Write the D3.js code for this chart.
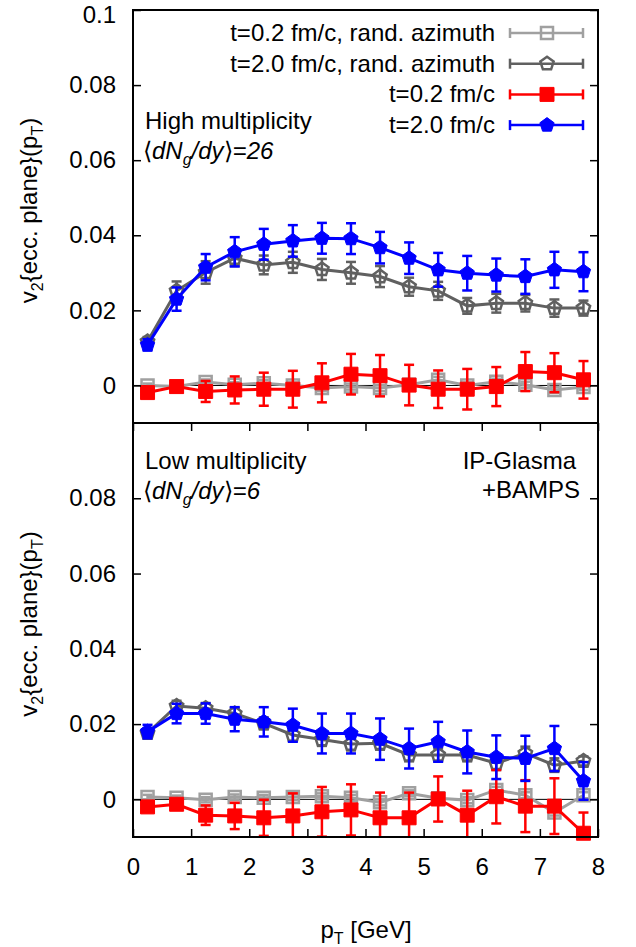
<!DOCTYPE html>
<html>
<head>
<meta charset="utf-8">
<script src="https://cdn.jsdelivr.net/npm/d3@7"></script>
<style>
  body { margin: 0; background: #fff; }
  svg text { font-family: "Liberation Sans", Arial, Helvetica, sans-serif; fill: #000; }
</style>
</head>
<body>
<svg id="chart" width="636" height="947"></svg>
<script>
// pT bin centres (GeV)
const pT = [0.25, 0.75, 1.25, 1.75, 2.25, 2.75, 3.25, 3.75, 4.25, 4.75, 5.25, 5.75, 6.25, 6.75, 7.25, 7.75];

// high multiplicity, <dNg/dy> = 26
const highRand02 = [0, -0.0003, 0.0009, 0.0002, 0.0006, 0, -0.0007, -0.0003, -0.0007, 0.0002, 0.0015, 0, 0.001, 0.0002, -0.0012, -0.0004];
const highRand02Err = [0.0005, 0.0006, 0.0007, 0.0007, 0.0008, 0.0008, 0.0008, 0.0008, 0.0008, 0.0008, 0.0008, 0.0008, 0.0008, 0.0008, 0.0008, 0.0008];
const highRand20 = [0.0117, 0.0252, 0.0301, 0.0339, 0.0321, 0.0328, 0.0309, 0.0300, 0.0290, 0.0263, 0.0252, 0.0212, 0.0219, 0.0219, 0.0206, 0.0206];
const highRand20Err = [0.0012, 0.0025, 0.003, 0.0021, 0.0025, 0.0028, 0.0028, 0.0029, 0.0028, 0.0024, 0.0024, 0.0021, 0.0025, 0.0022, 0.0023, 0.002];
const high02 = [-0.0019, -0.0003, -0.0016, -0.0012, -0.0010, -0.0010, 0.0007, 0.0030, 0.0026, 0.0001, -0.0010, -0.0010, -0.0003, 0.0037, 0.0034, 0.0015];
const high02Err = [0.0006, 0.0008, 0.0028, 0.0036, 0.0044, 0.0049, 0.0052, 0.0054, 0.0055, 0.0054, 0.0050, 0.0054, 0.0052, 0.0052, 0.0052, 0.0050];
const high20 = [0.0108, 0.0230, 0.0315, 0.0356, 0.0376, 0.0385, 0.0392, 0.0391, 0.0367, 0.0339, 0.0308, 0.0299, 0.0294, 0.0290, 0.0308, 0.0303];
const high20Err = [0.0015, 0.0031, 0.0035, 0.0039, 0.0041, 0.0042, 0.0041, 0.0041, 0.0042, 0.0042, 0.0045, 0.0046, 0.0044, 0.0046, 0.0048, 0.0052];

// low multiplicity, <dNg/dy> = 6
const lowRand02 = [0.0006, 0.0004, -0.0001, 0.0006, 0.0004, 0.0006, 0.0008, 0.0004, -0.0008, 0.0016, 0.0003, -0.0002, 0.0025, 0.0011, -0.0035, 0.0011];
const lowRand02Err = [0.0006, 0.0006, 0.0007, 0.0007, 0.0008, 0.0008, 0.0008, 0.0008, 0.0008, 0.0008, 0.0008, 0.0008, 0.0008, 0.0008, 0.0008, 0.0008];
const lowRand20 = [0.0176, 0.0248, 0.0242, 0.0228, 0.0202, 0.0171, 0.0159, 0.0147, 0.0149, 0.0118, 0.0118, 0.0118, 0.0096, 0.0122, 0.0091, 0.0102];
const lowRand20Err = [0.0012, 0.0014, 0.0014, 0.0015, 0.0016, 0.0016, 0.0017, 0.0017, 0.0017, 0.0017, 0.0017, 0.0017, 0.0018, 0.0018, 0.0018, 0.0012];
const low02 = [-0.0020, -0.0013, -0.0042, -0.0044, -0.0049, -0.0044, -0.0033, -0.0028, -0.0049, -0.0049, 0.0001, -0.0042, 0.0007, -0.0018, -0.0018, -0.0090];
const low02Err = [0.0006, 0.0006, 0.0026, 0.0035, 0.0048, 0.0060, 0.0066, 0.0068, 0.0067, 0.0067, 0.0060, 0.0065, 0.0071, 0.0069, 0.0074, 0.0055];
const low20 = [0.0180, 0.0228, 0.0228, 0.0213, 0.0206, 0.0197, 0.0175, 0.0175, 0.0160, 0.0135, 0.0153, 0.0126, 0.0112, 0.0109, 0.0135, 0.0049];
const low20Err = [0.0018, 0.0026, 0.0027, 0.0032, 0.0039, 0.0044, 0.0053, 0.0053, 0.0055, 0.0053, 0.0053, 0.0057, 0.0058, 0.0060, 0.0060, 0.0050];

const legendLabels = ['t=0.2 fm/c, rand. azimuth', 't=2.0 fm/c, rand. azimuth', 't=0.2 fm/c', 't=2.0 fm/c'];
const xTicks = [0, 1, 2, 3, 4, 5, 6, 7, 8];
const yTicksTop = [0, 0.02, 0.04, 0.06, 0.08, 0.1];
const yTicksBottom = [0, 0.02, 0.04, 0.06, 0.08];

// one style per series, in legend order
const styles = [
  {color: '#a0a0a0', marker: 'square', filled: false},
  {color: '#606060', marker: 'pentagon', filled: false},
  {color: '#ff0000', marker: 'square', filled: true},
  {color: '#0000ff', marker: 'pentagon', filled: true}
];

const svg = d3.select('#chart');
const left = 133, right = 598;
const fontSize = 24;

const x = d3.scaleLinear().domain([0, 8]).range([left, right]);
const yTop = d3.scaleLinear().domain([-0.01, 0.1]).range([423, 10]);
const yBottom = d3.scaleLinear().domain([-0.01, 0.1]).range([837, 423]);

function pentagonPath (r) {
  const pts = d3.range(5).map(i => {
    const a = -Math.PI / 2 + i * 2 * Math.PI / 5;
    return [r * Math.cos(a), r * Math.sin(a)];
  });
  return 'M' + pts.join('L') + 'Z';
}

function markerPath (style) {
  if (style.marker === 'pentagon') return pentagonPath(style.filled ? 7.5 : 7);
  const h = style.filled ? 7 : 6;
  return `M${-h},${-h}H${h}V${h}H${-h}Z`;
}

function drawMarker (g, style) {
  g.append('path')
    .attr('d', markerPath(style))
    .attr('fill', style.filled ? style.color : 'none')
    .attr('stroke', style.color)
    .attr('stroke-width', style.filled ? 1 : 2.5);
}

function fmt (d) {
  return d === 0 ? '0' : String(d);
}

function drawPanel (name, y, yTicks, series, showXLabels) {
  const top = y.range()[1], bottom = y.range()[0];
  const panel = svg.append('g').attr('class', 'panel-' + name);

  panel.append('clipPath').attr('id', 'clip-' + name)
    .append('rect')
    .attr('x', left).attr('y', top)
    .attr('width', right - left).attr('height', bottom - top);

  // zero axis
  panel.append('line')
    .attr('x1', left).attr('x2', right)
    .attr('y1', y(0)).attr('y2', y(0))
    .attr('stroke', '#000').attr('stroke-width', 1);

  const data = panel.append('g');

  series.forEach((s, i) => {
    const style = styles[i];
    const pts = pT.map((p, j) => ({x: p, y: s.values[j], e: s.errors[j]}));
    const g = data.append('g').attr('class', 'series');
    // lines and error bars are clipped, the point symbols are not
    const clipped = g.append('g').attr('clip-path', `url(#clip-${name})`);

    clipped.append('path')
      .datum(pts)
      .attr('fill', 'none')
      .attr('stroke', style.color)
      .attr('stroke-width', 3)
      .attr('d', d3.line().x(d => x(d.x)).y(d => y(d.y)));

    const bars = clipped.selectAll('g.err').data(pts).enter().append('g').attr('class', 'err')
      .attr('stroke', style.color).attr('stroke-width', 2.5);
    bars.append('line')
      .attr('x1', d => x(d.x)).attr('x2', d => x(d.x))
      .attr('y1', d => y(d.y - d.e)).attr('y2', d => y(d.y + d.e));
    bars.append('line')
      .attr('x1', d => x(d.x) - 5).attr('x2', d => x(d.x) + 5)
      .attr('y1', d => y(d.y - d.e)).attr('y2', d => y(d.y - d.e));
    bars.append('line')
      .attr('x1', d => x(d.x) - 5).attr('x2', d => x(d.x) + 5)
      .attr('y1', d => y(d.y + d.e)).attr('y2', d => y(d.y + d.e));

    g.selectAll('g.pt').data(pts).enter().append('g').attr('class', 'pt')
      .attr('transform', d => `translate(${x(d.x)},${y(d.y)})`)
      .each(function () { drawMarker(d3.select(this), style); });
  });

  // axes, ticks inward and mirrored
  const yAxis = panel.append('g').attr('transform', `translate(${left},0)`)
    .call(d3.axisLeft(y).tickValues(yTicks).tickFormat(fmt).tickSize(-8).tickPadding(17));
  yAxis.selectAll('text').style('font-size', fontSize + 'px');
  // keep the topmost label inside the page
  yAxis.selectAll('.tick').filter(d => y(d) < 12).select('text').attr('dy', '0.52em');

  panel.append('g').attr('transform', `translate(${right},0)`)
    .call(d3.axisRight(y).tickValues(yTicks).tickFormat('').tickSize(-8));

  if (showXLabels) {
    const xAxis = panel.append('g').attr('transform', `translate(0,${bottom})`)
      .call(d3.axisBottom(x).tickValues(xTicks).tickFormat(d3.format('d')).tickSize(-8).tickPadding(21));
    xAxis.selectAll('text').style('font-size', fontSize + 'px');
    panel.append('g').attr('transform', `translate(0,${top})`)
      .call(d3.axisTop(x).tickValues(xTicks).tickFormat('').tickSize(-8));
  }

  panel.selectAll('.domain').remove();
  panel.selectAll('.tick line').attr('stroke', '#000').attr('stroke-width', 1.5);

  panel.append('rect')
    .attr('x', left).attr('y', top)
    .attr('width', right - left).attr('height', bottom - top)
    .attr('fill', 'none').attr('stroke', '#000').attr('stroke-width', 2);

  // y label
  const lbl = panel.append('text')
    .attr('transform', `translate(37,${(top + bottom) / 2 - 6}) rotate(-90)`)
    .attr('text-anchor', 'middle')
    .style('font-size', fontSize + 'px');
  lbl.append('tspan').text('v');
  lbl.append('tspan').attr('dy', 6).style('font-size', '16px').text('2');
  lbl.append('tspan').attr('dy', -6).text('{ecc. plane}(p');
  lbl.append('tspan').attr('dy', 6).style('font-size', '16px').text('T');
  lbl.append('tspan').attr('dy', -6).text(')');

  return panel;
}

function multiplicityLabel (panel, title, value, baseline) {
  panel.append('text')
    .attr('x', 145).attr('y', baseline)
    .style('font-size', fontSize + 'px')
    .text(title);
  const t = panel.append('text')
    .attr('x', 143).attr('y', baseline + 30)
    .style('font-size', fontSize + 'px');
  t.append('tspan').text('\u27e8');
  t.append('tspan').style('font-style', 'italic').text('dN');
  t.append('tspan').attr('dy', 6).style('font-style', 'italic').style('font-size', '16px').text('g');
  t.append('tspan').attr('dy', -6).style('font-style', 'italic').text('/dy');
  t.append('tspan').text('\u27e9');
  t.append('tspan').style('font-style', 'italic').text('=' + value);
}

const topPanel = drawPanel('high', yTop, yTicksTop, [
  {values: highRand02, errors: highRand02Err},
  {values: highRand20, errors: highRand20Err},
  {values: high02, errors: high02Err},
  {values: high20, errors: high20Err}
], false);

const bottomPanel = drawPanel('low', yBottom, yTicksBottom, [
  {values: lowRand02, errors: lowRand02Err},
  {values: lowRand20, errors: lowRand20Err},
  {values: low02, errors: low02Err},
  {values: low20, errors: low20Err}
], true);

multiplicityLabel(topPanel, 'High multiplicity', 26, 129);
multiplicityLabel(bottomPanel, 'Low multiplicity', 6, 469);

bottomPanel.append('text')
  .attr('x', 576).attr('y', 469).attr('text-anchor', 'end')
  .style('font-size', fontSize + 'px').text('IP-Glasma');
bottomPanel.append('text')
  .attr('x', 580).attr('y', 498).attr('text-anchor', 'end')
  .style('font-size', fontSize + 'px').text('+BAMPS');

// legend
const legend = svg.append('g').attr('class', 'legend');
legendLabels.forEach((label, i) => {
  const style = styles[i];
  const row = legend.append('g').attr('transform', `translate(0,${41 + i * 30.7})`);
  row.append('text')
    .attr('x', 495).attr('y', 0).attr('text-anchor', 'end')
    .style('font-size', fontSize + 'px').text(label);
  const s = row.append('g').attr('transform', 'translate(547,-8)')
    .attr('stroke', style.color).attr('stroke-width', 2.5);
  s.append('line').attr('x1', -37).attr('x2', 36).attr('y1', 0).attr('y2', 0);
  s.append('line').attr('x1', -37).attr('x2', -37).attr('y1', -5).attr('y2', 5);
  s.append('line').attr('x1', 36).attr('x2', 36).attr('y1', -5).attr('y2', 5);
  drawMarker(s, style);
});

// x label
const xl = svg.append('text')
  .attr('x', 366).attr('y', 938).attr('text-anchor', 'middle')
  .style('font-size', fontSize + 'px');
xl.append('tspan').text('p');
xl.append('tspan').attr('dy', 6).style('font-size', '16px').text('T');
xl.append('tspan').attr('dy', -6).text(' [GeV]');
</script>
</body>
</html>
